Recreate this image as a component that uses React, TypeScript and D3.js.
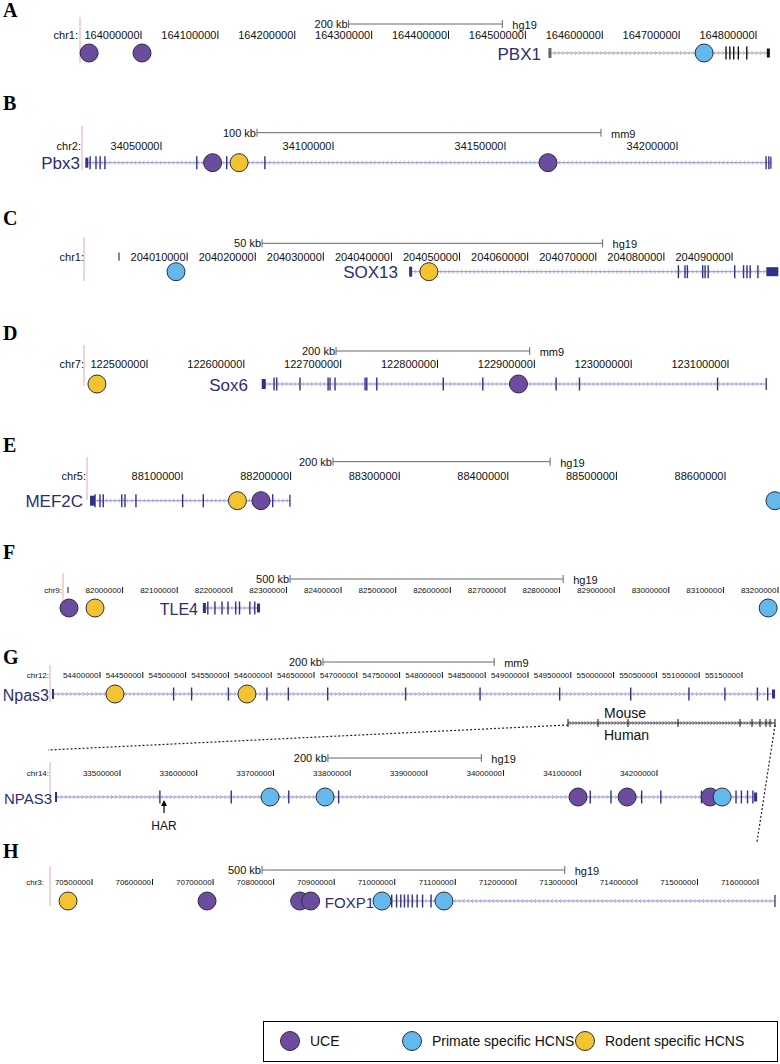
import React from 'react';
import * as d3 from 'd3';

// ---------- DATA (genomic coordinates) ----------
// Panel A  hg19 chr1, PBX1
const A_ticks = [164000000, 164100000, 164200000, 164300000, 164400000, 164500000, 164600000, 164700000, 164800000];
const A_gene = [164530000, 164818000];
const A_exons = [164761000, 164766000, 164771000, 164777000, 164788000];
const A_uce = [163932500, 164001300];
const A_primate = [164732500];
const A_rodent: number[] = [];

// Panel B  mm9 chr2, Pbx3
const B_ticks = [34050000, 34100000, 34150000, 34200000];
const B_gene = [34028000, 34227300];
const B_exons = [34029400, 34031100, 34032300, 34033700, 34060400, 34069100, 34080200, 34225900, 34226700];
const B_uce = [34065000, 34162500];
const B_primate: number[] = [];
const B_rodent = [34072700];

// Panel C  hg19 chr1, SOX13
const C_ticks = [204000000, 204010000, 204020000, 204030000, 204040000, 204050000, 204060000, 204070000, 204080000, 204090000];
const C_gene = [204042600, 204096800];
const C_exons = [204082130, 204083100, 204083450, 204085700, 204086050, 204086500, 204090400, 204091700, 204092200, 204092660, 204093800];
const C_uce: number[] = [];
const C_primate = [204008370];
const C_rodent = [204045500];

// Panel D  mm9 chr7, Sox6
const D_ticks = [122500000, 122600000, 122700000, 122800000, 122900000, 123000000, 123100000];
const D_gene = [122618500, 123139500];
const D_exons = [122631200, 122634000, 122658000, 122687000, 122689000, 122694200, 122725200, 122727000, 122737300, 122806000, 122846800, 122922500, 122946600, 123089200];
const D_uce = [122883600];
const D_primate: number[] = [];
const D_rodent = [122448300];

// Panel E  hg19 chr5, MEF2C
const E_ticks = [88100000, 88200000, 88300000, 88400000, 88500000, 88600000];
const E_gene = [88015300, 88199400];
const E_exons = [88019900, 88024500, 88027500, 88044500, 88047500, 88057600, 88100600, 88119600, 88183500];
const E_uce = [88172700];
const E_primate = [88646000];
const E_rodent = [88151000];

// Panel F  hg19 chr9, TLE4
const F_ticks = [81900000, 82000000, 82100000, 82200000, 82300000, 82400000, 82500000, 82600000, 82700000, 82800000, 82900000, 83000000, 83100000, 83200000];
const F_gene = [82147000, 82251600];
const F_exons = [82156000, 82169000, 82182000, 82193000, 82207000, 82214000, 82233000, 82242000];
const F_uce = [81901800];
const F_primate = [83182000];
const F_rodent = [81949500];

// Panel G  mouse mm9 chr12, Npas3
const Gm_ticks = [54400000, 54450000, 54500000, 54550000, 54600000, 54650000, 54700000, 54750000, 54800000, 54850000, 54900000, 54950000, 55000000, 55050000, 55100000, 55150000];
const Gm_gene = [54343900, 55188600];
const Gm_exons = [54486000, 54507000, 54550000, 54595000, 54620000, 54666000, 54757000, 54844000, 54937000, 55020000, 55088000, 55130000, 55168000, 55180000];
const Gm_uce: number[] = [];
const Gm_primate: number[] = [];
const Gm_rodent = [54417500, 54571700];

// Panel G  human hg19 chr14, NPAS3
const Gh_ticks = [33500000, 33600000, 33700000, 33800000, 33900000, 34000000, 34100000, 34200000];
const Gh_gene = [33415300, 34330500];
const Gh_exons = [33552000, 33645000, 33720000, 33785000, 34113000, 34140000, 34180000, 34205000, 34258000, 34303000, 34310000, 34318000, 34325000];
const Gh_uce = [34097100, 34161000, 34269200];
const Gh_primate = [33695600, 33767300, 34284900];
const Gh_rodent: number[] = [];
const Gh_har = [33557400];

// Panel H  hg19 chr3, FOXP1
const H_ticks = [70500000, 70600000, 70700000, 70800000, 70900000, 71000000, 71100000, 71200000, 71300000, 71400000, 71500000, 71600000];
const H_gene = [70969000, 71628000];
const H_exons = [70995000, 71003000, 71010000, 71016000, 71022000, 71029000, 71037000, 71046000, 71060000];
const H_uce = [70690000, 70843000, 70861000];
const H_primate = [70979000, 71081300];
const H_rodent = [70460400];

const legendItems = ['UCE', 'Primate specific HCNS', 'Rodent specific HCNS'];

// ---------- STYLE ----------
const COL = { uce: '#6b4c9f', primate: '#63b8ec', rodent: '#f4c430' };
const SANS = 'Liberation Sans, Arial, Helvetica, sans-serif';
const SERIF = 'Liberation Serif, Times New Roman, serif';

type Track = {
  chr: string; chrX: number; ticks: number[]; hideLabel?: boolean[];
  domain: [number, number]; range: [number, number];
  tickY: number; tickFont: number;
  pinkX: number; pinkY: [number, number];
  scale?: { kb: number; from: number; y: number; asm: string };
  gene: { name: string; span: number[]; exons: number[]; strand: number; labelRight: number; labelSize: number; black?: boolean; boxW?: number; endBox?: number };
  y: number;
  uce: number[]; primate: number[]; rodent: number[];
  r?: number;
};

type Panel = { letter: string; letterY: number; tracks: Track[] };

const GL = 17;

const panels: Panel[] = [
  { letter: 'A', letterY: 17, tracks: [{
    chr: 'chr1:', chrX: 78, ticks: A_ticks, domain: [164000000, 164800000], range: [141, 756], tickY: 39, tickFont: 11,
    pinkX: 80, pinkY: [17, 63], scale: { kb: 200, from: 164270000, y: 24, asm: 'hg19' },
    gene: { name: 'PBX1', span: A_gene, exons: A_exons, strand: 1, labelRight: 541, labelSize: GL, black: true, boxW: 3, endBox: 3 },
    y: 53, uce: A_uce, primate: A_primate, rodent: A_rodent }] },
  { letter: 'B', letterY: 110, tracks: [{
    chr: 'chr2:', chrX: 81, ticks: B_ticks, domain: [34050000, 34200000], range: [161, 677], tickY: 150, tickFont: 11,
    pinkX: 82, pinkY: [126, 170], scale: { kb: 100, from: 34077900, y: 132.7, asm: 'mm9' },
    gene: { name: 'Pbx3', span: B_gene, exons: B_exons, strand: -1, labelRight: 80, labelSize: GL, boxW: 3, endBox: 0 },
    y: 162.7, uce: B_uce, primate: B_primate, rodent: B_rodent }] },
  { letter: 'C', letterY: 225, tracks: [{
    chr: 'chr1:', chrX: 84, ticks: C_ticks, hideLabel: [true], domain: [204000000, 204090000], range: [119, 732], tickY: 260.7, tickFont: 11,
    pinkX: 84, pinkY: [237, 281], scale: { kb: 50, from: 204021000, y: 243.3, asm: 'hg19' },
    gene: { name: 'SOX13', span: C_gene, exons: C_exons, strand: 1, labelRight: 398, labelSize: GL, boxW: 3, endBox: 12 },
    y: 271.7, uce: C_uce, primate: C_primate, rodent: C_rodent }] },
  { letter: 'D', letterY: 340, tracks: [{
    chr: 'chr7:', chrX: 84, ticks: D_ticks, domain: [122500000, 123100000], range: [147, 728], tickY: 368, tickFont: 11,
    pinkX: 84, pinkY: [345, 386], scale: { kb: 200, from: 122695200, y: 351, asm: 'mm9' },
    gene: { name: 'Sox6', span: D_gene, exons: D_exons, strand: -1, labelRight: 248, labelSize: GL, boxW: 4, endBox: 0 },
    y: 384, uce: D_uce, primate: D_primate, rodent: D_rodent }] },
  { letter: 'E', letterY: 452, tracks: [{
    chr: 'chr5:', chrX: 86, ticks: E_ticks, domain: [88100000, 88600000], range: [182, 725], tickY: 480, tickFont: 11,
    pinkX: 87, pinkY: [457, 500], scale: { kb: 200, from: 88239000, y: 461.7, asm: 'hg19' },
    gene: { name: 'MEF2C', span: E_gene, exons: E_exons, strand: -1, labelRight: 83, labelSize: GL, boxW: 5, endBox: 0 },
    y: 500.7, uce: E_uce, primate: E_primate, rodent: E_rodent }] },
  { letter: 'F', letterY: 559, tracks: [{
    chr: 'chr9:', chrX: 62, ticks: F_ticks, hideLabel: [true], domain: [81900000, 83200000], range: [68, 778], tickY: 593, tickFont: 8,
    pinkX: 63, pinkY: [573, 615], scale: { kb: 500, from: 82306600, y: 579, asm: 'hg19' },
    gene: { name: 'TLE4', span: F_gene, exons: F_exons, strand: -1, labelRight: 198, labelSize: 16, boxW: 3, endBox: 3 },
    y: 608, uce: F_uce, primate: F_primate, rodent: F_rodent }] },
  { letter: 'G', letterY: 664, tracks: [{
    chr: 'chr12:', chrX: 49, ticks: Gm_ticks, domain: [54400000, 55150000], range: [100, 742], tickY: 678, tickFont: 8,
    pinkX: 50, pinkY: [665, 702], scale: { kb: 200, from: 54660500, y: 662, asm: 'mm9' },
    gene: { name: 'Npas3', span: Gm_gene, exons: Gm_exons, strand: 1, labelRight: 49, labelSize: 16, boxW: 2, endBox: 3 },
    y: 694, uce: Gm_uce, primate: Gm_primate, rodent: Gm_rodent },
  {
    chr: 'chr14:', chrX: 49, ticks: Gh_ticks, domain: [33500000, 34200000], range: [120, 657], tickY: 776, tickFont: 8,
    pinkX: 50, pinkY: [762, 800], scale: { kb: 200, from: 33771000, y: 758, asm: 'hg19' },
    gene: { name: 'NPAS3', span: Gh_gene, exons: Gh_exons, strand: 1, labelRight: 52, labelSize: 15, boxW: 2, endBox: 3 },
    y: 797, uce: Gh_uce, primate: Gh_primate, rodent: Gh_rodent }] },
  { letter: 'H', letterY: 858, tracks: [{
    chr: 'chr3:', chrX: 44, ticks: H_ticks, domain: [70500000, 71600000], range: [92, 758], tickY: 885, tickFont: 8,
    pinkX: 50, pinkY: [866, 906], scale: { kb: 500, from: 70780800, y: 870, asm: 'hg19' },
    gene: { name: 'FOXP1', span: H_gene, exons: H_exons, strand: -1, labelRight: 374, labelSize: 15, boxW: 4, endBox: 0 },
    y: 901, uce: H_uce, primate: H_primate, rodent: H_rodent }] },
];

function chevronPath(x0: number, x1: number, y: number, strand: number, step = 4.2) {
  let p = '';
  for (let x = x0 + 3; x < x1 - 2; x += step) {
    if (strand > 0) p += `M${x - 1.5},${y - 2}L${x},${y}L${x - 1.5},${y + 2}`;
    else p += `M${x + 1.5},${y - 2}L${x},${y}L${x + 1.5},${y + 2}`;
  }
  return p;
}

function TrackView({ t }: { t: Track }) {
  const x = d3.scaleLinear().domain(t.domain).range(t.range);
  const g = t.gene;
  const exonCol = g.black ? '#111' : '#303088';
  const lineCol = g.black ? '#9a9a9a' : '#8e8ecc';
  const chevCol = g.black ? '#b0b0b0' : '#a2a2d8';
  const r = t.r ?? 9;
  const gx0 = x(g.span[0]);
  const gx1 = x(g.span[1]);
  const circles = [
    ...t.uce.map((d) => ({ d, c: COL.uce })),
    ...t.primate.map((d) => ({ d, c: COL.primate })),
    ...t.rodent.map((d) => ({ d, c: COL.rodent })),
  ];
  return (
    <g>
      <line x1={t.pinkX} x2={t.pinkX} y1={t.pinkY[0]} y2={t.pinkY[1]} stroke="#e8a8a8" strokeWidth={1} />
      <text x={t.chrX} y={t.tickY} fontFamily={SANS} fontSize={t.tickFont} textAnchor="end" fill="#111">{t.chr}</text>
      {t.ticks.map((tk, i) => (
        <g key={tk}>
          {!(t.hideLabel && t.hideLabel[i]) && (
            <text x={x(tk) - 1.5} y={t.tickY} fontFamily={SANS} fontSize={t.tickFont} textAnchor="end" fill="#111">{tk}</text>
          )}
          <line x1={x(tk)} x2={x(tk)} y1={t.tickY - t.tickFont * 0.75} y2={t.tickY} stroke="#111" strokeWidth={1} />
        </g>
      ))}
      {t.scale && (() => {
        const sx0 = x(t.scale.from);
        const sx1 = x(t.scale.from + t.scale.kb * 1000);
        return (
          <g>
            <line x1={sx0} x2={sx1} y1={t.scale.y} y2={t.scale.y} stroke="#666" strokeWidth={1} />
            <line x1={sx0} x2={sx0} y1={t.scale.y - 4} y2={t.scale.y + 4} stroke="#666" />
            <line x1={sx1} x2={sx1} y1={t.scale.y - 4} y2={t.scale.y + 4} stroke="#666" />
            <text x={sx0 - 1} y={t.scale.y + 4} fontFamily={SANS} fontSize={11} textAnchor="end" fill="#111">{t.scale.kb} kb</text>
            <text x={sx1 + 10} y={t.scale.y + 5} fontFamily={SANS} fontSize={11} fill="#111">{t.scale.asm}</text>
          </g>
        );
      })()}
      <text x={g.labelRight} y={t.y + 6.5} fontFamily={SANS} fontSize={g.labelSize} textAnchor="end" fill="#2d2d78">{g.name}</text>
      <line x1={gx0} x2={gx1} y1={t.y} y2={t.y} stroke={lineCol} strokeWidth={1} />
      <path d={chevronPath(gx0, gx1, t.y, g.strand)} stroke={chevCol} strokeWidth={0.8} fill="none" />
      <rect x={gx0} y={t.y - 5} width={g.boxW ?? 3} height={10} fill={g.black ? '#666' : exonCol} />
      {g.endBox ? <rect x={gx1 - (g.endBox ?? 3)} y={t.y - 4.5} width={g.endBox} height={9} fill={exonCol} /> : <line x1={gx1} x2={gx1} y1={t.y - 6} y2={t.y + 6} stroke={exonCol} strokeWidth={1.3} />}
      {g.exons.map((e) => (
        <line key={e} x1={x(e)} x2={x(e)} y1={t.y - 6.5} y2={t.y + 6.5} stroke={exonCol} strokeWidth={1.4} />
      ))}
      {circles.map((c, i) => (
        <circle key={i} cx={x(c.d)} cy={t.y} r={r} fill={c.c} stroke="#2c2c3c" strokeWidth={1} />
      ))}
    </g>
  );
}

export default function App() {
  const xh = d3.scaleLinear().domain([33500000, 34200000]).range([120, 657]);
  const miniX0 = 568, miniX1 = 775, miniY = 723;
  return (
    <svg width={780} height={1064} style={{ display: 'block', position: 'absolute', left: 0, top: 0 }}>
      <rect width={780} height={1064} fill="#fff" />
      {panels.map((p) => (
        <g key={p.letter}>
          <text x={3} y={p.letterY} fontFamily={SERIF} fontWeight="bold" fontSize={20} fill="#000">{p.letter}</text>
          {p.tracks.map((t, i) => <TrackView key={i} t={t} />)}
        </g>
      ))}
      {/* Mouse / Human comparison */}
      <text x={604} y={718} fontFamily={SANS} fontSize={14} fill="#111">Mouse</text>
      <line x1={miniX0} x2={miniX1} y1={miniY} y2={miniY} stroke="#333" strokeWidth={1} />
      <path d={chevronPath(miniX0, miniX1, miniY, 1, 3)} stroke="#555" strokeWidth={0.7} fill="none" />
      {[miniX0, miniX0 + 30, miniX0 + 60, miniX0 + 110, 740, 752, 760, 766, 770, miniX1].map((mx, i) => (
        <line key={i} x1={mx} x2={mx} y1={miniY - 4} y2={miniY + 4} stroke="#111" strokeWidth={1} />
      ))}
      <text x={604} y={740} fontFamily={SANS} fontSize={14} fill="#111">Human</text>
      <line x1={miniX0} y1={miniY + 2} x2={48} y2={750} stroke="#222" strokeWidth={1.2} strokeDasharray="2,2" />
      <line x1={miniX1} y1={miniY + 2} x2={757} y2={842} stroke="#222" strokeWidth={1.2} strokeDasharray="2,2" />
      {Gh_har.map((h) => (
        <g key={h}>
          <line x1={xh(h)} x2={xh(h)} y1={813} y2={802} stroke="#000" strokeWidth={1.2} />
          <path d={`M${xh(h) - 3},${806}L${xh(h)},${800}L${xh(h) + 3},${806}Z`} fill="#000" />
          <text x={xh(h)} y={830} fontFamily={SANS} fontSize={12} textAnchor="middle" fill="#111">HAR</text>
        </g>
      ))}
      {/* Legend */}
      <rect x={263.5} y={1021.5} width={514} height={40} fill="none" stroke="#000" strokeWidth={1} />
      {legendItems.map((l, i) => {
        const lx = [290, 412, 585][i];
        const c = [COL.uce, COL.primate, COL.rodent][i];
        return (
          <g key={l}>
            <circle cx={lx} cy={1041} r={9.5} fill={c} stroke="#2c2c3c" strokeWidth={1} />
            <text x={lx + 20} y={1046} fontFamily={SANS} fontSize={14} fill="#111">{l}</text>
          </g>
        );
      })}
    </svg>
  );
}
